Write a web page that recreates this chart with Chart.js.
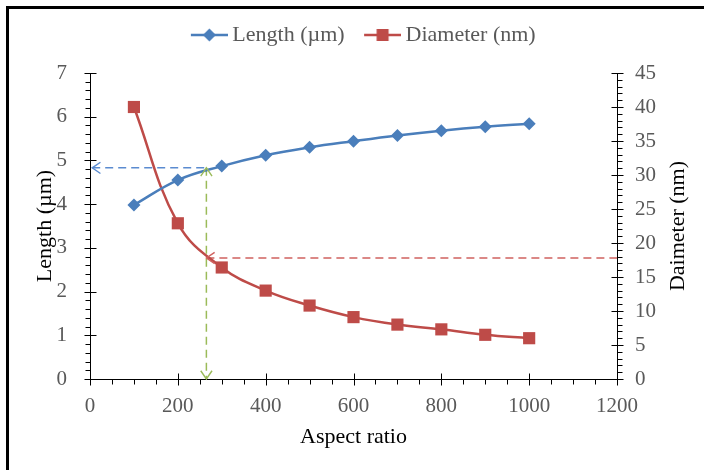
<!DOCTYPE html>
<html lang="en">
<head>
    <meta charset="UTF-8">
    <title>Length and Diameter vs Aspect ratio</title>
    <style>
        body {
            margin: 0;
            padding: 0;
            background: #fff;
            overflow: hidden;
        }
        #wrap {
            position: relative;
            width: 704px;
            height: 470px;
        }
        #frame {
            position: absolute;
            left: 6px;
            top: 6px;
            width: 700px;
            height: 461px;
            border-top: 3px solid #000;
            border-left: 3px solid #000;
            border-bottom: 1px solid #a6a6a6;
            pointer-events: none;
        }
    </style>
</head>
<body>
    <div id="wrap">
        <canvas id="chart" width="704" height="470"></canvas>
        <div id="frame"></div>
    </div>

    <script src="https://cdn.jsdelivr.net/npm/chart.js"></script>
    <script>
        // values
        const aspectRatio = [100, 200, 300, 400, 500, 600, 700, 800, 900, 1000];
        const lengthUm = [3.98, 4.55, 4.87, 5.12, 5.30, 5.44, 5.57, 5.68, 5.77, 5.84];
        const diameterNm = [40.0, 22.9, 16.4, 13.0, 10.8, 9.1, 8.0, 7.3, 6.5, 6.0];

        // dashed guide lines (aspect ratio 265 -> length 4.83 um, diameter 17.8 nm)
        const guideAspect = 265;
        const guideLength = 4.83;
        const guideDiameter = 17.8;
        const guideStartX = 5;

        // axis ranges: [min, max, major step, minor step]
        const xRange = [0, 1200, 200, 50];
        const lengthRange = [0, 7, 1, 0.2];
        const diameterRange = [0, 45, 5, 1];

        const blue = '#4a7ebb';
        const red = '#be4b48';
        const guideBlue = '#5b8bd0';
        const guideRed = '#d0625f';
        const guideGreen = '#9bbb59';
        const labelGrey = '#595959';
        const serif = "'Liberation Serif', 'Times New Roman', serif";

        function legendIcon(color, shape) {
            const c = document.createElement('canvas');
            c.width = 46;
            c.height = 16;
            const g = c.getContext('2d');
            g.strokeStyle = color;
            g.lineWidth = 2.5;
            g.beginPath();
            g.moveTo(9, 8);
            g.lineTo(46, 8);
            g.stroke();
            g.fillStyle = color;
            const cx = 27.5;
            if (shape === 'diamond') {
                g.beginPath();
                g.moveTo(cx, 1.5);
                g.lineTo(cx + 6.5, 8);
                g.lineTo(cx, 14.5);
                g.lineTo(cx - 6.5, 8);
                g.closePath();
                g.fill();
            } else {
                g.fillRect(cx - 6, 2, 12, 12);
            }
            return c;
        }
        const legendIcons = [legendIcon(blue, 'diamond'), legendIcon(red, 'square')];

        function arrowHead(ctx, x, y, dir, color) {
            // open chevron, tip at (x, y), pointing in direction dir (radians)
            const len = 10, spread = 0.6;
            ctx.save();
            ctx.strokeStyle = color;
            ctx.lineWidth = 1.4;
            ctx.setLineDash([]);
            ctx.beginPath();
            ctx.moveTo(x - len * Math.cos(dir - spread), y - len * Math.sin(dir - spread));
            ctx.lineTo(x, y);
            ctx.lineTo(x - len * Math.cos(dir + spread), y - len * Math.sin(dir + spread));
            ctx.stroke();
            ctx.restore();
        }

        function drawTicks(ctx, scale, range, side) {
            const [min, max, major, minor] = range;
            ctx.save();
            ctx.strokeStyle = '#000';
            ctx.lineWidth = 1;
            const n = Math.round((max - min) / minor);
            for (let i = 0; i <= n; i++) {
                const v = min + i * minor;
                const isMajor = Math.abs(v / major - Math.round(v / major)) < 1e-6;
                const p = Math.round(scale.getPixelForValue(v)) + 0.5;
                ctx.beginPath();
                if (side === 'bottom') {
                    const y0 = Math.round(scale.top) + 0.5;
                    if (isMajor) { ctx.moveTo(p, y0 - 6); ctx.lineTo(p, y0 + 6); }
                    else { ctx.moveTo(p, y0); ctx.lineTo(p, y0 + 5); }
                } else {
                    const x0 = Math.round(side === 'left' ? scale.right : scale.left) + 0.5;
                    const out = side === 'left' ? -1 : 1;
                    if (isMajor) { ctx.moveTo(x0 - 6, p); ctx.lineTo(x0 + 6, p); }
                    else { ctx.moveTo(x0, p); ctx.lineTo(x0 + out * 5, p); }
                }
                ctx.stroke();
            }
            ctx.restore();
        }

        const extrasPlugin = {
            id: 'extras',
            beforeLayout(chart) {
                // leave a gap between the legend and the plot area
                const lg = chart.legend;
                if (lg && !lg._gapPatched) {
                    const fit = lg.fit;
                    lg.fit = function () {
                        fit.call(this);
                        this.height = 66;
                    };
                    lg._gapPatched = true;
                }
            },
            afterDraw(chart) {
                const ctx = chart.ctx;
                const x = chart.scales.x, y = chart.scales.y, y2 = chart.scales.y2;
                drawTicks(ctx, x, xRange, 'bottom');
                drawTicks(ctx, y, lengthRange, 'left');
                drawTicks(ctx, y2, diameterRange, 'right');

                // arrow heads on the guide lines
                arrowHead(ctx, x.getPixelForValue(guideStartX), y.getPixelForValue(guideLength), Math.PI, guideBlue);
                arrowHead(ctx, x.getPixelForValue(guideAspect), y.getPixelForValue(guideLength), -Math.PI / 2, guideGreen);
                arrowHead(ctx, x.getPixelForValue(guideAspect), y.getPixelForValue(0), Math.PI / 2, guideGreen);
                arrowHead(ctx, x.getPixelForValue(guideAspect), y2.getPixelForValue(guideDiameter), Math.PI, guideRed);

                // right axis title, reading bottom to top
                ctx.save();
                ctx.translate(678, (y2.top + y2.bottom) / 2);
                ctx.rotate(-Math.PI / 2);
                ctx.font = '22px ' + serif;
                ctx.fillStyle = '#000';
                ctx.textAlign = 'center';
                ctx.textBaseline = 'middle';
                ctx.fillText('Daimeter (nm)', 0, 0);
                ctx.restore();
            }
        };

        const plainTick = value => String(value);

        const chart = new Chart(document.getElementById('chart'), {
            type: 'line',
            data: {
                datasets: [
                    {
                        label: 'Length (µm)',
                        data: aspectRatio.map((a, i) => ({ x: a, y: lengthUm[i] })),
                        yAxisID: 'y',
                        borderColor: blue,
                        backgroundColor: blue,
                        borderWidth: 2.5,
                        tension: 0.4,
                        pointStyle: 'rectRot',
                        pointRadius: 6.5,
                        pointBorderWidth: 0
                    },
                    {
                        label: 'Diameter (nm)',
                        data: aspectRatio.map((a, i) => ({ x: a, y: diameterNm[i] })),
                        yAxisID: 'y2',
                        borderColor: red,
                        backgroundColor: red,
                        borderWidth: 2.5,
                        tension: 0.4,
                        pointStyle: 'rect',
                        pointRadius: 8.6,
                        pointBorderWidth: 0
                    },
                    {
                        label: 'guide-length',
                        data: [{ x: guideStartX, y: guideLength }, { x: guideAspect, y: guideLength }],
                        yAxisID: 'y',
                        borderColor: guideBlue,
                        borderWidth: 1.5,
                        borderDash: [8, 5],
                        pointRadius: 0,
                        tension: 0
                    },
                    {
                        label: 'guide-aspect',
                        data: [{ x: guideAspect, y: guideLength }, { x: guideAspect, y: 0 }],
                        yAxisID: 'y',
                        borderColor: guideGreen,
                        borderWidth: 1.5,
                        borderDash: [8, 5],
                        pointRadius: 0,
                        tension: 0
                    },
                    {
                        label: 'guide-diameter',
                        data: [{ x: guideAspect, y: guideDiameter }, { x: xRange[1], y: guideDiameter }],
                        yAxisID: 'y2',
                        borderColor: guideRed,
                        borderWidth: 1.5,
                        borderDash: [8, 5],
                        pointRadius: 0,
                        tension: 0
                    }
                ]
            },
            options: {
                responsive: false,
                animation: false,
                layout: {
                    padding: { left: 20, right: 0, top: 7, bottom: 0 }
                },
                plugins: {
                    tooltip: { enabled: false },
                    legend: {
                        position: 'top',
                        labels: {
                            usePointStyle: true,
                            pointStyleWidth: 33,
                            padding: 17,
                            color: labelGrey,
                            font: { family: serif, size: 22 },
                            filter: item => item.datasetIndex < 2,
                            generateLabels(chart) {
                                const items = Chart.defaults.plugins.legend.labels.generateLabels(chart);
                                items.forEach(item => {
                                    if (item.datasetIndex < 2) item.pointStyle = legendIcons[item.datasetIndex];
                                });
                                return items;
                            }
                        }
                    }
                },
                scales: {
                    x: {
                        type: 'linear',
                        min: xRange[0],
                        max: xRange[1],
                        grid: { display: false },
                        border: { display: true, color: '#000', width: 1 },
                        ticks: {
                            stepSize: xRange[2],
                            color: labelGrey,
                            padding: 7,
                            font: { family: serif, size: 21 },
                            callback: plainTick
                        },
                        title: {
                            display: true,
                            text: 'Aspect ratio',
                            color: '#000',
                            font: { family: serif, size: 22 },
                            padding: { top: 0, bottom: 20 }
                        },
                        afterFit(scale) { scale.height = 91; }
                    },
                    y: {
                        position: 'left',
                        min: lengthRange[0],
                        max: lengthRange[1],
                        grid: { display: false },
                        border: { display: true, color: '#000', width: 1 },
                        ticks: {
                            stepSize: lengthRange[2],
                            color: labelGrey,
                            padding: 15,
                            font: { family: serif, size: 21 },
                            callback: plainTick
                        },
                        title: {
                            display: true,
                            text: 'Length (µm)',
                            color: '#000',
                            font: { family: serif, size: 22 },
                            padding: { top: 12, bottom: 0 }
                        },
                        afterFit(scale) { scale.width = 70; }
                    },
                    y2: {
                        position: 'right',
                        min: diameterRange[0],
                        max: diameterRange[1],
                        grid: { display: false },
                        border: { display: true, color: '#000', width: 1 },
                        ticks: {
                            stepSize: diameterRange[2],
                            color: labelGrey,
                            padding: 10,
                            font: { family: serif, size: 21 },
                            callback: plainTick
                        },
                        afterFit(scale) { scale.width = 87; }
                    }
                }
            },
            plugins: [extrasPlugin]
        });
    </script>
</body>
</html>
